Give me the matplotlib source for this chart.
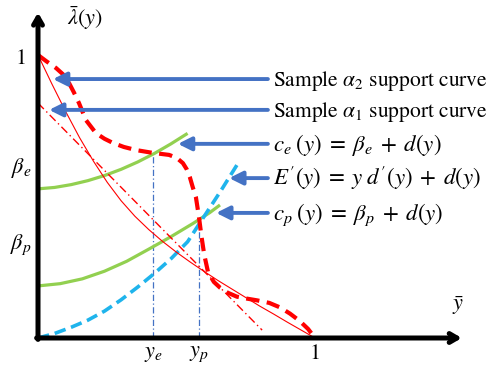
import matplotlib
matplotlib.use("Agg")
import matplotlib.pyplot as plt

plt.rcParams['font.family'] = ['STIXGeneral', 'DejaVu Serif']
plt.rcParams['mathtext.fontset'] = 'stix'

# ---- data ----
alpha2_x = [0.0, 0.03, 0.065, 0.09, 0.112, 0.13, 0.148, 0.173, 0.209, 0.24, 0.271, 0.31,
            0.354, 0.415, 0.473, 0.50, 0.523, 0.537, 0.548, 0.558, 0.570, 0.581, 0.590,
            0.600, 0.614, 0.635, 0.657, 0.685, 0.718, 0.755, 0.791, 0.835, 0.874, 0.91,
            0.945, 0.975, 1.0]
alpha2_y = [1.0, 0.978, 0.954, 0.932, 0.901, 0.867, 0.830, 0.770, 0.724, 0.704, 0.689, 0.675,
            0.664, 0.654, 0.647, 0.637, 0.618, 0.596, 0.569, 0.535, 0.498, 0.428, 0.360,
            0.295, 0.232, 0.198, 0.178, 0.160, 0.146, 0.139, 0.133, 0.124, 0.108, 0.086,
            0.060, 0.032, 0.0]

alpha1_x = [0.0, 0.05, 0.1, 0.15, 0.2, 0.25, 0.3, 0.35, 0.4, 0.45, 0.5, 0.55, 0.6, 0.65,
            0.7, 0.75, 0.8, 0.85, 0.9, 0.95, 1.0]
alpha1_y = [1.0, 0.898, 0.80, 0.708, 0.625, 0.55, 0.485, 0.43, 0.383, 0.341, 0.303, 0.268,
            0.235, 0.203, 0.173, 0.143, 0.113, 0.085, 0.056, 0.028, 0.0]

chord_x = [0.0, 0.809]
chord_y = [0.83, 0.028]

ce_x = [0.0, 0.06, 0.12, 0.18, 0.24, 0.30, 0.36, 0.42, 0.48, 0.54]
ce_y = [0.527, 0.532, 0.542, 0.556, 0.574, 0.596, 0.622, 0.652, 0.686, 0.723]

cp_x = [0.0, 0.08, 0.16, 0.24, 0.32, 0.40, 0.48, 0.56, 0.62, 0.657]
cp_y = [0.184, 0.192, 0.209, 0.236, 0.271, 0.314, 0.358, 0.405, 0.443, 0.470]

ep_x = [0.0, 0.06, 0.12, 0.18, 0.24, 0.30, 0.36, 0.42, 0.48, 0.54, 0.60, 0.66, 0.718]
ep_y = [0.0, 0.016, 0.038, 0.063, 0.095, 0.135, 0.18, 0.228, 0.28, 0.34, 0.43, 0.52, 0.611]

y_e, y_p = 0.415, 0.581
y_e_top, y_p_top = 0.654, 0.42

x_tick_pos = [y_e, y_p, 1.0]
x_tick_lab = [r'$y_e$', r'$y_p$', '1']
y_tick_pos = [0.985, 0.60, 0.33]
y_tick_lab = ['1', r'$\beta_e$', r'$\beta_p$']

labels = [r'Sample $\alpha_2$ support curve',
          r'Sample $\alpha_1$ support curve',
          r'$c_e\;(y)\;=\;\beta_e\;+\;d(y)$',
          r"$E'(y)\;=\;y\;d'(y)\;+\;d(y)$",
          r'$c_p\;(y)\;=\;\beta_p\;+\;d(y)$']
label_size = [15.5, 15.5, 16.5, 16.5, 16.5]
label_y = [0.915, 0.806, 0.686, 0.565, 0.442]
arrow_tip_x = [0.054, 0.040, 0.505, 0.690, 0.643]

# ---- figure ----
fig = plt.figure(figsize=(5.01, 3.71), dpi=100)
ax = fig.add_axes([0, 0, 1, 1])
ax.set_xlim(-0.1372, 1.6715)
ax.set_ylim(-0.1166, 1.1943)
ax.axis('off')

RED = '#FF0000'
GREEN = '#92D050'
CYAN = '#1FB4EC'
BLUE = '#4472C4'

ax.plot(ce_x, ce_y, color=GREEN, lw=2.3, solid_capstyle='butt', zorder=3)
ax.plot(cp_x, cp_y, color=GREEN, lw=2.3, solid_capstyle='butt', zorder=3)
ax.plot(ep_x, ep_y, color=CYAN, lw=2.6, dashes=(3.2, 1.6), zorder=3)
ax.plot(alpha1_x, alpha1_y, color=RED, lw=0.8, zorder=4)
ax.plot(chord_x, chord_y, color=RED, lw=1.0, dashes=(6, 2.5, 1, 2.5), zorder=4)
ax.plot(alpha2_x, alpha2_y, color=RED, lw=3.0, dashes=(3.2, 1.8), zorder=5)

ax.plot([y_e, y_e], [0, y_e_top], color=BLUE, lw=0.9, dashes=(5, 2, 1, 2), zorder=2)
ax.plot([y_p, y_p], [0, y_p_top], color=BLUE, lw=0.9, dashes=(5, 2, 1, 2), zorder=2)

# axes with arrows
ax.annotate('', xy=(0, 1.15), xytext=(0, -0.005),
            arrowprops=dict(arrowstyle='->,head_length=0.55,head_width=0.32',
                            lw=3.6, color='black', shrinkA=0, shrinkB=0), zorder=6)
ax.annotate('', xy=(1.53, 0), xytext=(-0.005, 0),
            arrowprops=dict(arrowstyle='->,head_length=0.55,head_width=0.32',
                            lw=3.6, color='black', shrinkA=0, shrinkB=0), zorder=6)

for xp, lab in zip(x_tick_pos, x_tick_lab):
    ax.text(xp, -0.058, lab, ha='center', va='center', fontsize=16)
for yp, lab in zip(y_tick_pos, y_tick_lab):
    ax.text(-0.062, yp, lab, ha='center', va='center', fontsize=16)

ax.text(0.17, 1.13, r'$\bar{\lambda}(y)$', ha='center', va='center', fontsize=16)
ax.text(1.516, 0.115, r'$\bar{y}$', ha='center', va='center', fontsize=16)

for lab, fs, ly, tx in zip(labels, label_size, label_y, arrow_tip_x):
    ax.annotate('', xy=(tx, ly), xytext=(0.830, ly),
                arrowprops=dict(arrowstyle='-|>,head_length=0.8,head_width=0.4',
                                lw=2.8, color=BLUE, shrinkA=0, shrinkB=0), zorder=7)
    ax.text(0.848, ly - 0.024, lab, ha='left', va='baseline', fontsize=fs)

fig.savefig('out.png', dpi=100)
